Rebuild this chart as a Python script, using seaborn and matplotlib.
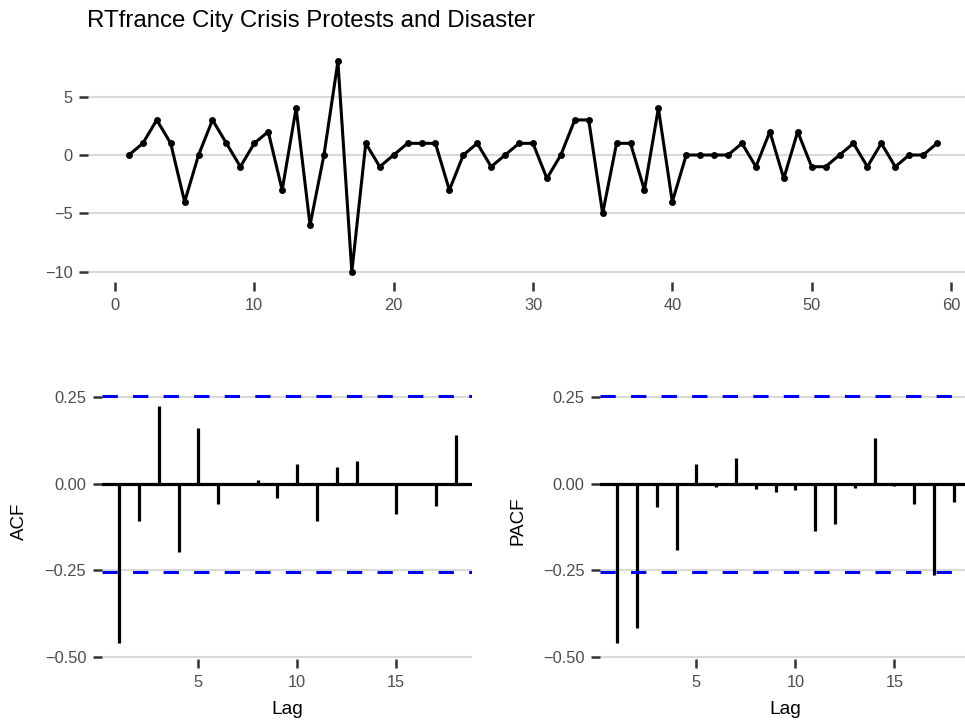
import matplotlib
matplotlib.use('Agg')
import matplotlib.pyplot as plt
import numpy as np
import pandas as pd
import seaborn as sns

# series (differenced counts)
t = list(range(1, 60))
values = [0, 1, 3, 1, -4, 0, 3, 1, -1, 1, 2, -3, 4, -6, 0, 8, -10, 1, -1, 0,
          1, 1, 1, -3, 0, 1, -1, 0, 1, 1, -2, 0, 3, 3, -5, 1, 1, -3, 4, -4,
          0, 0, 0, 0, 1, -1, 2, -2, 2, -1, -1, 0, 1, -1, 1, -1, 0, 0, 1]

lags = list(range(1, 19))
acf_vals = [-0.460, -0.108, 0.226, -0.197, 0.160, -0.059, -0.003, 0.010, -0.042,
            0.056, -0.108, 0.047, 0.067, 0.002, -0.087, 0.001, -0.063, 0.140]
pacf_vals = [-0.460, -0.417, -0.067, -0.191, 0.058, -0.009, 0.075, -0.016, -0.023,
             -0.018, -0.137, -0.116, -0.011, 0.131, -0.007, -0.060, -0.265, -0.052]

title = 'RTfrance City Crisis Protests and Disaster'
conf = 1.96 / np.sqrt(len(values))

df = pd.DataFrame({'t': t, 'value': values})

sns.set_theme(style='white')
plt.rcParams['font.family'] = ['Liberation Sans', 'DejaVu Sans']

grid_col = '#d9d9d9'
tick_col = '#333333'
lab_col = '#4d4d4d'

fig = plt.figure(figsize=(9.65, 7.28), dpi=100)
ax_top = fig.add_axes([0.0917, 0.612, 0.9212, 0.318])
ax_acf = fig.add_axes([0.106, 0.0953, 0.3836, 0.3784])
ax_pacf = fig.add_axes([0.6222, 0.0953, 0.3836, 0.3784])


def style_axis(ax):
    for s in ax.spines.values():
        s.set_visible(False)
    ax.grid(False)
    ax.yaxis.grid(True, color=grid_col, linewidth=1.5)
    ax.set_axisbelow(True)
    ax.tick_params(axis='both', length=6.5, width=1.8, color=tick_col,
                   labelcolor=lab_col, labelsize=11.8, pad=5,
                   bottom=True, left=True, direction='out')


# top: time series
sns.lineplot(data=df, x='t', y='value', ax=ax_top, color='black', linewidth=2.2,
             marker='o', markersize=5, markeredgewidth=0, markerfacecolor='black')
ax_top.set_xlim(-1.9, 61.9)
ax_top.set_ylim(-10.9, 8.9)
ax_top.set_xticks([0, 10, 20, 30, 40, 50, 60])
ax_top.set_yticks([-10, -5, 0, 5])
ax_top.set_xlabel('')
ax_top.set_ylabel('')
style_axis(ax_top)
fig.text(87 / 965, 1 - 27 / 728, title, fontsize=17.3, color='black',
         ha='left', va='baseline')

# ACF / PACF
for ax, vals, name in [(ax_acf, acf_vals, 'ACF'), (ax_pacf, pacf_vals, 'PACF')]:
    ax.vlines(lags, 0, vals, color='black', linewidth=2.3)
    ax.axhline(0, color='black', linewidth=2.3, zorder=2)
    for c in (conf, -conf):
        ax.axhline(c, color='#0000ff', linewidth=2.2, linestyle=(0, (5, 5)), zorder=3)
    ax.set_xlim(0.15, 18.85)
    ax.set_ylim(-0.506, 0.291)
    ax.set_xticks([5, 10, 15])
    ax.set_yticks([-0.5, -0.25, 0.0, 0.25])
    ax.set_yticklabels(['\u22120.50', '\u22120.25', '0.00', '0.25'])
    ax.set_xlabel('Lag', fontsize=13.8, color='black', labelpad=8)
    ax.set_ylabel(name, fontsize=13.5, color='black', labelpad=12)
    style_axis(ax)

fig.savefig('out.png', dpi=100)
